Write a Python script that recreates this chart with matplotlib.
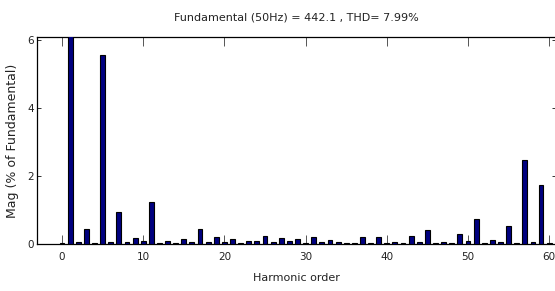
import matplotlib
matplotlib.use("Agg")
import matplotlib.pyplot as plt
import numpy as np

# harmonic spectrum, % of fundamental (h1 = 100 %, clipped by the y range)
harmonics = list(range(0, 61))
mag = [
    0.04, 100.0, 0.07, 0.44, 0.04, 5.56, 0.07, 0.94, 0.07, 0.17,   # 0-9
    0.08, 1.24, 0.04, 0.10, 0.04, 0.14, 0.05, 0.44, 0.06, 0.20,    # 10-19
    0.05, 0.15, 0.04, 0.10, 0.08, 0.25, 0.05, 0.18, 0.08, 0.16,    # 20-29
    0.04, 0.21, 0.05, 0.12, 0.07, 0.04, 0.04, 0.20, 0.04, 0.20,    # 30-39
    0.04, 0.07, 0.04, 0.24, 0.07, 0.40, 0.04, 0.07, 0.04, 0.28,    # 40-49
    0.08, 0.75, 0.04, 0.13, 0.07, 0.52, 0.04, 2.47, 0.05, 1.74,    # 50-59
    0.04,                                                          # 60
]
xticks = [0, 10, 20, 30, 40, 50, 60]
yticks = [0, 2, 4, 6]

title = "Fundamental (50Hz) = 442.1 , THD= 7.99%"
xlabel = "Harmonic order"
ylabel = "Mag (% of Fundamental)"

narrow = ["DejaVu Sans Condensed", "Liberation Sans Narrow", "DejaVu Sans"]

fig = plt.figure(figsize=(5.55, 2.91), dpi=100)
ax = fig.add_axes([37 / 555, 47 / 291, 519 / 555, 207 / 291])

ax.bar(harmonics, mag, width=0.6, color="#000080", edgecolor="black", linewidth=0.8, zorder=3)

ax.set_xlim(-3.08, 60.84)
ax.set_ylim(0, 6.09)
ax.set_xticks(xticks)
ax.set_yticks(yticks)
ax.tick_params(axis="x", direction="in", length=6.5, width=0.7, color="#555555",
               top=True, bottom=True, pad=6)
ax.tick_params(axis="y", direction="in", length=3, width=0.7, color="#333333",
               left=True, right=True, pad=2)
for lab in ax.get_xticklabels() + ax.get_yticklabels():
    lab.set_family(narrow)
    lab.set_fontsize(7.5)
    lab.set_color("#222222")

for s in ax.spines.values():
    s.set_linewidth(0.9)
    s.set_color("black")

ax.set_title(title, family=narrow, fontsize=8, pad=12, color="#222222")
ax.set_xlabel(xlabel, family=narrow, fontsize=8, labelpad=8, color="#222222")
ax.set_ylabel(ylabel, fontsize=9, labelpad=6, color="#222222")

fig.savefig("out.png", dpi=100)
